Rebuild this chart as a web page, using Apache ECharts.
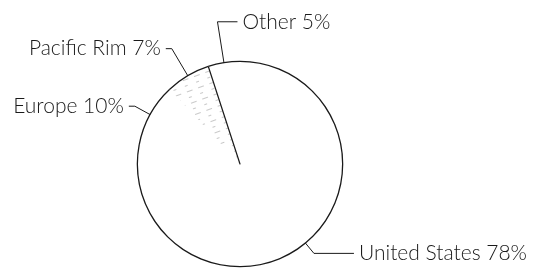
<!DOCTYPE html>
<html>
<head>
<meta charset="utf-8">
<script src="https://cdn.jsdelivr.net/npm/echarts@6/dist/echarts.min.js"></script>
<style>
html, body { margin: 0; padding: 0; background: #fff; }
#chart { width: 535px; height: 270px; }
</style>
</head>
<body>
<div id="chart"></div>
<script>
const regions = ["United States", "Europe", "Pacific Rim", "Other"];
const shares = [78, 10, 7, 5];

// label line [length, length2] per slice
const lineLen = {
  "United States": [14, 40],
  "Europe": [18, 6],
  "Pacific Rim": [32, 6],
  "Other": [42, 20]
};

const center = [240, 164];
const R = 102;
const ink = "#1a1a1a";

const sliceData = regions.map((name, i) => {
  const item = {
    name: name,
    value: shares[i],
    labelLine: { length: lineLen[name][0], length2: lineLen[name][1] }
  };
  if (name === "Pacific Rim") {
    item.itemStyle = {
      color: "#fff",
      decal: {
        symbol: "rect",
        symbolSize: 1,
        color: "rgba(0,0,0,0.22)",
        dashArrayX: [[6, 6], [3, 9]],
        dashArrayY: [1, 5],
        rotation: -0.35
      }
    };
  }
  return item;
});

// only the Pacific Rim / Other boundary is drawn as a radius in the original
const beforeOther = shares.slice(0, 3).reduce((a, b) => a + b, 0);
const clear = { color: "rgba(0,0,0,0)", borderWidth: 0 };
const edgeData = [
  { value: beforeOther, itemStyle: clear },
  { value: 0, itemStyle: { color: "rgba(0,0,0,0)", borderColor: ink, borderWidth: 1.2 } },
  { value: shares[3], itemStyle: clear }
];

const chart = echarts.init(document.getElementById("chart"));
chart.setOption({
  animation: false,
  textStyle: { fontFamily: "Lato", fontWeight: 300 },
  series: [
    {
      type: "pie",
      center: center,
      radius: [0, R],
      avoidLabelOverlap: false,
      data: sliceData,
      itemStyle: { color: "#fff", borderWidth: 0 },
      label: {
        show: true,
        formatter: "{b} {c}%",
        fontSize: 21,
        fontFamily: "Lato",
        fontWeight: 300,
        color: ink,
        bleedMargin: 0,
        distanceToLabelLine: 5
      },
      labelLine: { show: true, lineStyle: { color: ink, width: 1 } },
      labelLayout: function (params) {
        if (regions[params.dataIndex] !== "Other") return {};
        const pts = params.labelLinePoints;
        if (!pts) return {};
        const bend = pts[1];
        const end = [bend[0] + (bend[0] - pts[2][0]), pts[2][1]];
        return {
          x: end[0] + 5,
          y: end[1],
          align: "left",
          verticalAlign: "middle",
          labelLinePoints: [pts[0], bend, end]
        };
      },
      emphasis: { disabled: true }
    },
    {
      type: "pie",
      center: center,
      radius: [R, R + 1.3],
      silent: true,
      data: shares.map((v, i) => ({ name: regions[i], value: v })),
      itemStyle: { color: ink, borderWidth: 0 },
      label: { show: false },
      labelLine: { show: false }
    },
    {
      type: "pie",
      center: center,
      radius: [0, R],
      silent: true,
      data: edgeData,
      label: { show: false },
      labelLine: { show: false }
    }
  ]
});
</script>
</body>
</html>
